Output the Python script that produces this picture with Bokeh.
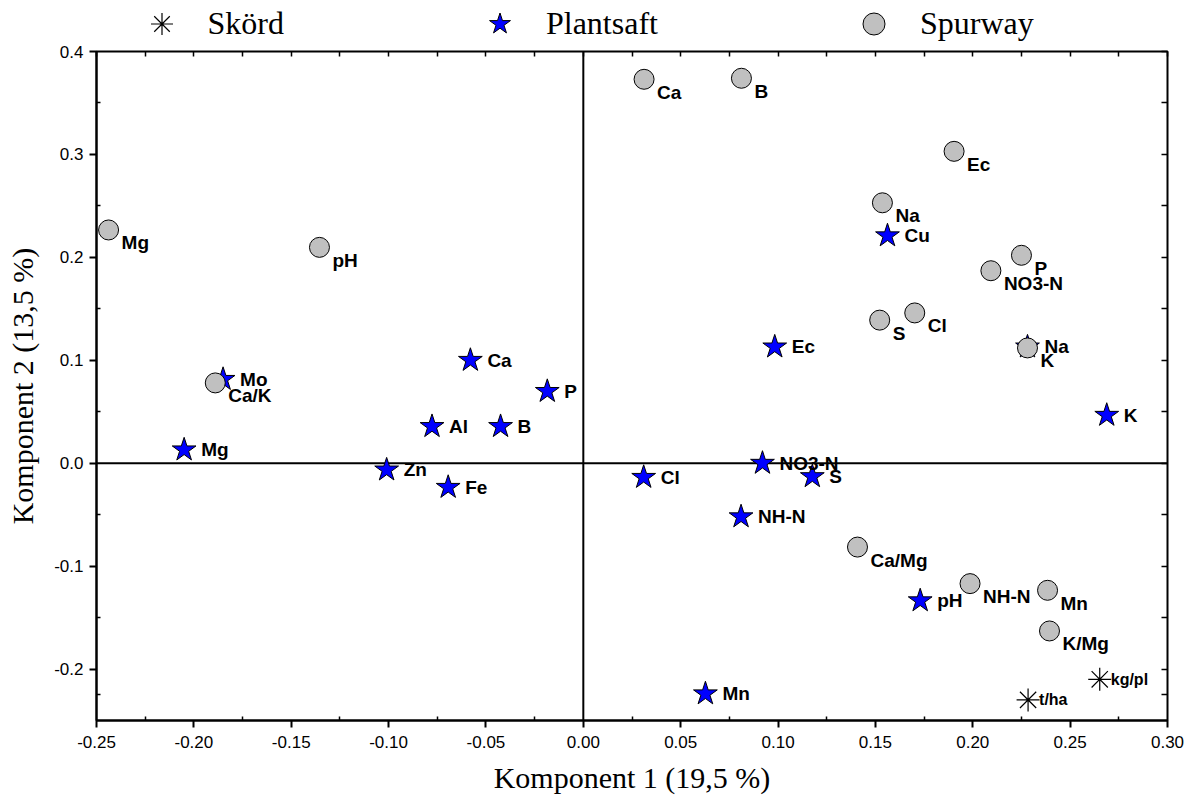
from bokeh.plotting import figure
from bokeh.layouts import column
from bokeh.models import (Range1d, LinearAxis, FixedTicker, Span, Legend, LegendItem,
                          ColumnDataSource, LabelSet, CustomJSTickFormatter)
from bokeh.core.properties import value
from bokeh.embed import file_html
from bokeh.resources import INLINE

# ---------------- data ----------------
plantsaft_names = ["Mo", "Mg", "Ca", "P", "Al", "B", "Zn", "Fe", "Cl", "NO3-N", "S",
                   "NH-N", "Mn", "pH", "Ec", "Cu", "Na", "K"]
plantsaft_x = [-0.185, -0.205, -0.058, -0.0185, -0.0777, -0.0425, -0.101, -0.0694, 0.031,
               0.092, 0.1176, 0.081, 0.0627, 0.173, 0.0983, 0.1562, 0.2281, 0.2688]
plantsaft_y = [0.0815, 0.013, 0.100, 0.0698, 0.0357, 0.0357, -0.0065, -0.0234, -0.0137,
               0.000, -0.013, -0.052, -0.224, -0.1336, 0.113, 0.221, 0.113, 0.0466]

spurway_names = ["Mg", "pH", "Ca/K", "Ca", "B", "Ec", "Na", "P", "NO3-N", "S", "Cl", "K",
                 "Ca/Mg", "NH-N", "Mn", "K/Mg"]
spurway_x = [-0.2438, -0.1355, -0.189, 0.0312, 0.0812, 0.1904, 0.1536, 0.2250, 0.2093,
             0.1522, 0.1702, 0.2281, 0.1408, 0.1986, 0.2384, 0.2394]
spurway_y = [0.2266, 0.2097, 0.078, 0.373, 0.374, 0.303, 0.253, 0.202, 0.187, 0.139,
             0.146, 0.112, -0.0815, -0.117, -0.1235, -0.163]

skord_names = ["kg/pl", "t/ha"]
skord_x = [0.2652, 0.2284]
skord_y = [-0.210, -0.230]

x_ticks = [-0.25, -0.20, -0.15, -0.10, -0.05, 0.00, 0.05, 0.10, 0.15, 0.20, 0.25, 0.30]
x_tick_labels = ["-0.25", "-0.20", "-0.15", "-0.10", "-0.05", "0.00", "0.05", "0.10",
                 "0.15", "0.20", "0.25", "0.30"]
y_ticks = [-0.2, -0.1, 0.0, 0.1, 0.2, 0.3, 0.4]
y_tick_labels = ["-0.2", "-0.1", "0.0", "0.1", "0.2", "0.3", "0.4"]

x_label = "Komponent 1 (19,5 %)"
y_label = "Komponent 2 (13,5 %)"
series_labels = ["Skörd", "Plantsaft", "Spurway"]

# ---------------- main figure ----------------
LEG_H = 42
p = figure(frame_width=1071, frame_height=669,
           x_range=Range1d(-0.25, 0.30), y_range=Range1d(-0.25, 0.40),
           output_backend="svg", toolbar_location=None,
           min_border_left=96, min_border_top=51 - LEG_H, min_border_right=20,
           min_border_bottom=70)
p.grid.visible = False
p.outline_line_color = "black"
p.outline_line_width = 2
p.background_fill_color = "white"
p.border_fill_color = "white"

x_minor = [(a + b) / 2 for a, b in zip(x_ticks[:-1], x_ticks[1:])]
y_all = [-0.25] + y_ticks
y_minor = [(a + b) / 2 for a, b in zip(y_all[:-1], y_all[1:])]

for ax in p.xaxis:
    ax.ticker = FixedTicker(ticks=x_ticks, minor_ticks=x_minor)
    ax.major_label_overrides = dict(zip(x_ticks, x_tick_labels))
for ax in p.yaxis:
    ax.ticker = FixedTicker(ticks=y_ticks, minor_ticks=y_minor)
    ax.major_label_overrides = dict(zip(y_ticks, y_tick_labels))

for ax in list(p.xaxis) + list(p.yaxis):
    ax.axis_line_width = 2
    ax.major_tick_out = 7
    ax.major_tick_in = 0
    ax.minor_tick_in = 4
    ax.minor_tick_out = 0
    ax.major_tick_line_width = 2
    ax.minor_tick_line_width = 1.5
    ax.major_label_text_font = "Liberation Sans"
    ax.major_label_text_font_size = "17px"
    ax.major_label_text_color = "black"
    ax.major_label_standoff = 6
    ax.axis_label_text_font = "Liberation Serif"
    ax.axis_label_text_font_size = "30px"
    ax.axis_label_text_font_style = "normal"
    ax.axis_label_text_color = "black"

p.xaxis.axis_label = x_label
p.yaxis.axis_label = y_label
p.xaxis.major_label_standoff = 8
p.xaxis.axis_label_standoff = 10
p.yaxis.axis_label_standoff = 12

blank = CustomJSTickFormatter(code="return ''")
top_ax = LinearAxis(ticker=FixedTicker(ticks=x_ticks, minor_ticks=x_minor), formatter=blank,
                    axis_line_color=None, major_tick_in=5, major_tick_out=0,
                    minor_tick_in=5, minor_tick_out=0, major_tick_line_width=1.5,
                    minor_tick_line_width=1.5, major_label_standoff=0, axis_label_standoff=0)
right_ax = LinearAxis(ticker=FixedTicker(ticks=y_ticks, minor_ticks=y_minor), formatter=blank,
                      axis_line_color=None, major_tick_in=6, major_tick_out=0,
                      minor_tick_in=6, minor_tick_out=0, major_tick_line_width=1.5,
                      minor_tick_line_width=1.5, major_label_standoff=0, axis_label_standoff=0)
p.add_layout(top_ax, "above")
p.add_layout(right_ax, "right")

p.add_layout(Span(location=0, dimension="height", line_color="black", line_width=2, level="underlay"))
p.add_layout(Span(location=0, dimension="width", line_color="black", line_width=2, level="underlay"))

src_p = ColumnDataSource(dict(x=plantsaft_x, y=plantsaft_y, name=plantsaft_names))
src_s = ColumnDataSource(dict(x=spurway_x, y=spurway_y, name=spurway_names))
src_k = ColumnDataSource(dict(x=skord_x, y=skord_y, name=skord_names))

star_style = dict(marker="star", size=25, fill_color="#0000FF", line_color="black", line_width=1)
circ_style = dict(marker="circle", size=20, fill_color="#C0C0C0", line_color="black", line_width=1)
ast_style = dict(marker="asterisk", size=23, line_color="black", line_width=1.2)

p.scatter("x", "y", source=src_p, **star_style)
p.scatter("x", "y", source=src_s, **circ_style)
p.scatter("x", "y", source=src_k, **ast_style)

lbl_font = value("Liberation Sans")
p.add_layout(LabelSet(x="x", y="y", text="name", source=src_p, x_offset=17, y_offset=0,
                      text_font=lbl_font, text_font_style="bold", text_font_size="19px",
                      text_baseline="middle", text_align="left", text_color="black"))
p.add_layout(LabelSet(x="x", y="y", text="name", source=src_s, x_offset=13, y_offset=-13,
                      text_font=lbl_font, text_font_style="bold", text_font_size="19px",
                      text_baseline="middle", text_align="left", text_color="black"))
p.add_layout(LabelSet(x="x", y="y", text="name", source=src_k, x_offset=11, y_offset=0,
                      text_font=lbl_font, text_font_style="bold", text_font_size="16px",
                      text_baseline="middle", text_align="left", text_color="black"))

# ---------------- legend strip ----------------
# legend proxies reuse the series sources; the strip's ranges keep those points out of view
lf = figure(width=1187, height=LEG_H, min_border=0, x_axis_type=None, y_axis_type=None,
            x_range=Range1d(10, 11), y_range=Range1d(10, 11),
            output_backend="svg", toolbar_location=None)
lf.grid.visible = False
lf.outline_line_color = None
l_k = lf.scatter("x", "y", source=src_k, **ast_style)
l_p = lf.scatter("x", "y", source=src_p, **star_style)
l_s = lf.scatter("x", "y", source=src_s, **circ_style)

legend = Legend(items=[LegendItem(label=series_labels[0], renderers=[l_k]),
                       LegendItem(label=series_labels[1], renderers=[l_p]),
                       LegendItem(label=series_labels[2], renderers=[l_s])],
                orientation="horizontal", location=(37.5, -8.5),
                glyph_width=55, glyph_height=55, label_standoff=19, spacing=188,
                padding=0, margin=0, border_line_color=None, background_fill_alpha=0,
                label_text_font="Liberation Serif", label_text_font_size="32px",
                label_text_color="black")
lf.add_layout(legend)

layout = column(lf, p, spacing=0)
open("out.html", "w").write(file_html(layout, INLINE))
